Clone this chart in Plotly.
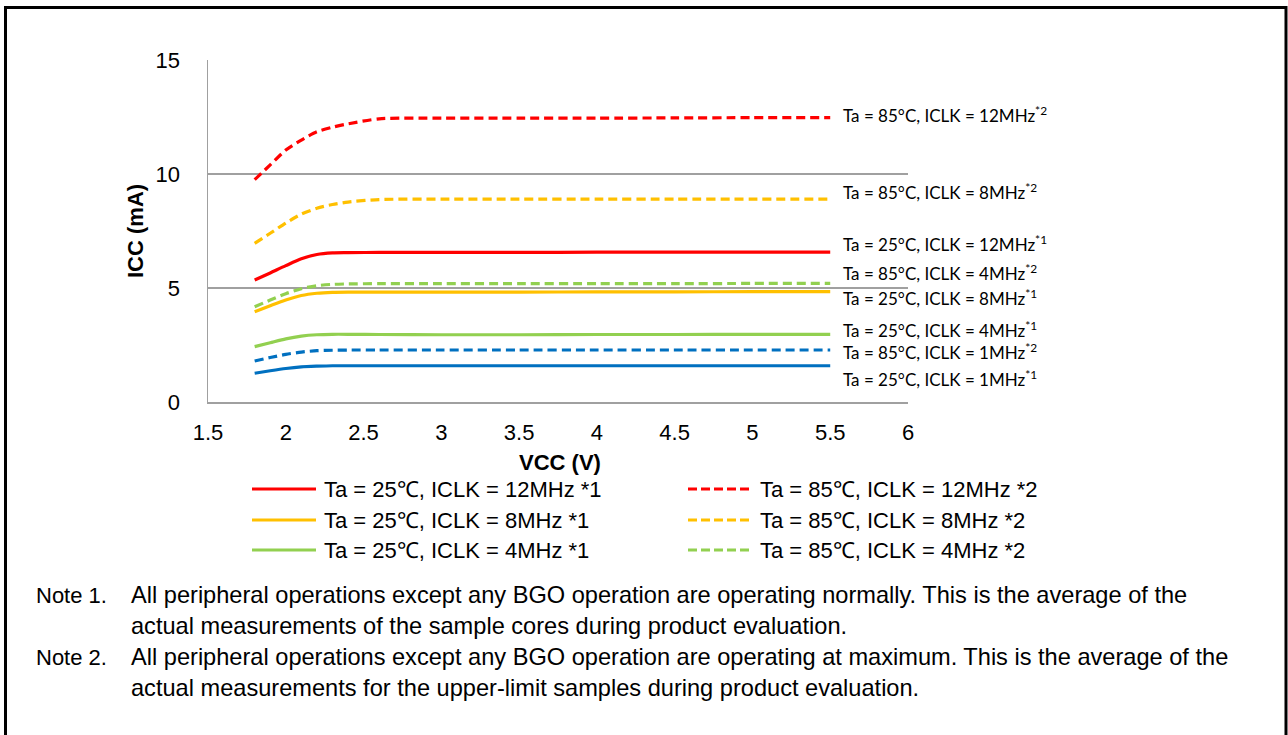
import plotly.graph_objects as go

# ---------------- data ----------------
VCC = [1.8, 1.9, 2.0, 2.1, 2.2, 2.3, 2.4, 2.6, 3.0, 3.5, 4.0, 4.5, 5.0, 5.5]

ICC_25C_12MHZ = [5.35, 5.66, 5.98, 6.28, 6.47, 6.54, 6.55, 6.56, 6.56, 6.56, 6.57, 6.57, 6.57, 6.57]
ICC_85C_12MHZ = [9.75, 10.40, 11.05, 11.49, 11.85, 12.05, 12.20, 12.42, 12.45, 12.45, 12.45, 12.46, 12.47, 12.47]
ICC_25C_8MHZ = [3.96, 4.22, 4.47, 4.67, 4.77, 4.81, 4.82, 4.82, 4.82, 4.82, 4.83, 4.83, 4.84, 4.84]
ICC_85C_8MHZ = [6.96, 7.40, 7.85, 8.24, 8.50, 8.66, 8.77, 8.88, 8.90, 8.90, 8.90, 8.90, 8.90, 8.90]
ICC_25C_4MHZ = [2.43, 2.60, 2.77, 2.89, 2.95, 2.97, 2.97, 2.96, 2.95, 2.95, 2.96, 2.96, 2.97, 2.97]
ICC_85C_4MHZ = [4.18, 4.47, 4.75, 4.97, 5.10, 5.16, 5.18, 5.19, 5.19, 5.19, 5.19, 5.19, 5.20, 5.20]
ICC_25C_1MHZ = [1.26, 1.37, 1.47, 1.54, 1.57, 1.59, 1.59, 1.59, 1.59, 1.59, 1.59, 1.59, 1.59, 1.59]
ICC_85C_1MHZ = [1.80, 1.95, 2.09, 2.19, 2.25, 2.27, 2.28, 2.28, 2.28, 2.28, 2.28, 2.28, 2.28, 2.28]

SERIES_NAMES = [
    "Ta = 25℃, ICLK = 12MHz *1", "Ta = 85℃, ICLK = 12MHz *2",
    "Ta = 25℃, ICLK = 8MHz *1", "Ta = 85℃, ICLK = 8MHz *2",
    "Ta = 25℃, ICLK = 4MHz *1", "Ta = 85℃, ICLK = 4MHz *2",
    "Ta = 25℃, ICLK = 1MHz *1", "Ta = 85℃, ICLK = 1MHz *2",
]
SERIES_VALUES = [ICC_25C_12MHZ, ICC_85C_12MHZ, ICC_25C_8MHZ, ICC_85C_8MHZ,
                 ICC_25C_4MHZ, ICC_85C_4MHZ, ICC_25C_1MHZ, ICC_85C_1MHZ]
IN_LEGEND = [True, True, True, True, True, True, False, False]

SIDE_LABELS = [
    "Ta = 85°C, ICLK = 12MHz<sup>*2</sup>",
    "Ta = 85°C, ICLK = 8MHz<sup>*2</sup>",
    "Ta = 25°C, ICLK = 12MHz<sup>*1</sup>",
    "Ta = 85°C, ICLK = 4MHz<sup>*2</sup>",
    "Ta = 25°C, ICLK = 8MHz<sup>*1</sup>",
    "Ta = 25°C, ICLK = 4MHz<sup>*1</sup>",
    "Ta = 85°C, ICLK = 1MHz<sup>*2</sup>",
    "Ta = 25°C, ICLK = 1MHz<sup>*1</sup>",
]

X_TICKS = [1.5, 2, 2.5, 3, 3.5, 4, 4.5, 5, 5.5, 6]
X_TICK_TEXT = ["1.5", "2", "2.5", "3", "3.5", "4", "4.5", "5", "5.5", "6"]
Y_TICKS = [0, 5, 10, 15]

NOTES = [
    ("Note 1.", "All peripheral operations except any BGO operation are operating normally. This is the average of the"),
    ("", "actual measurements of the sample cores during product evaluation."),
    ("Note 2.", "All peripheral operations except any BGO operation are operating at maximum. This is the average of the"),
    ("", "actual measurements for the upper-limit samples during product evaluation."),
]

# ---------------- style / layout ----------------
W, H = 1288, 735
PL, PR, PT, PB = 208, 908, 60, 402  # plot area in pixels


def px(xp):
    return (xp - PL) / (PR - PL)


def py(yp):
    return (PB - yp) / (PB - PT)


COLORS = ["#FF0000", "#FF0000", "#FFC000", "#FFC000", "#92D050", "#92D050", "#0070C0", "#0070C0"]
DASHES = ["solid", "9px,5px"] * 4
SIDE_LABEL_Y = [114, 191, 243, 272, 297, 329, 351, 378]
NOTE_Y = [595, 626, 657, 688]
AXIS_GRAY = "#A0A0A0"

fig = go.Figure()
for name, vals, col, dash in zip(SERIES_NAMES, SERIES_VALUES, COLORS, DASHES):
    fig.add_trace(go.Scatter(
        x=VCC, y=vals, mode="lines", name=name, showlegend=False, hoverinfo="skip",
        line=dict(color=col, width=3.2, dash=dash, shape="spline", smoothing=0.7),
    ))

shapes = []
annotations = []

# frame
shapes.append(dict(type="rect", xref="paper", yref="paper",
                   x0=px(5.5), x1=px(1286), y0=py(760), y1=py(7.5),
                   line=dict(color="black", width=3), fillcolor="rgba(0,0,0,0)", layer="above"))

# manual legend (two columns)
LEG_COL_X = [(252, 316, 322), (688, 753, 758)]
LEG_ROW_Y = [489, 520, 550]
legend_idx = [i for i, f in enumerate(IN_LEGEND) if f]
for k, i in enumerate(legend_idx):
    row, col = divmod(k, 2)
    x0, x1, xt = LEG_COL_X[col]
    yy = LEG_ROW_Y[row]
    shapes.append(dict(type="line", xref="paper", yref="paper",
                       x0=px(x0), x1=px(x1), y0=py(yy), y1=py(yy),
                       line=dict(color=COLORS[i], width=3.2,
                                 dash="solid" if DASHES[i] == "solid" else "9px,4px")))
    annotations.append(dict(xref="paper", yref="paper", x=px(xt), y=py(yy),
                            xanchor="left", yanchor="middle", showarrow=False,
                            text=SERIES_NAMES[i],
                            font=dict(family="Liberation Sans, Arial", size=22, color="black")))

# side labels
for txt, yy in zip(SIDE_LABELS, SIDE_LABEL_Y):
    annotations.append(dict(xref="paper", yref="paper", x=px(841), y=py(yy),
                            xanchor="left", yanchor="middle", showarrow=False,
                            text=txt, font=dict(family="Lato, Liberation Sans", size=17, color="black")))

# axis titles
annotations.append(dict(xref="paper", yref="paper", x=px(560), y=py(462),
                        xanchor="center", yanchor="middle", showarrow=False,
                        text="<b>VCC (V)</b>",
                        font=dict(family="Liberation Sans, Arial", size=22, color="black")))
annotations.append(dict(xref="paper", yref="paper", x=px(135), y=py(231),
                        xanchor="center", yanchor="middle", showarrow=False, textangle=-90,
                        text="<b>ICC (mA)</b>",
                        font=dict(family="Liberation Sans, Arial", size=22, color="black")))

# notes
for (lab, txt), yy in zip(NOTES, NOTE_Y):
    if lab:
        annotations.append(dict(xref="paper", yref="paper", x=px(34), y=py(yy),
                                xanchor="left", yanchor="middle", showarrow=False, text=lab,
                                font=dict(family="Liberation Sans, Arial", size=22, color="black")))
    annotations.append(dict(xref="paper", yref="paper", x=px(129), y=py(yy),
                            xanchor="left", yanchor="middle", showarrow=False, text=txt,
                            font=dict(family="Liberation Sans, Arial", size=23.6, color="black")))

fig.update_layout(
    width=W, height=H, autosize=False,
    margin=dict(l=PL, r=W - PR, t=PT, b=H - PB, autoexpand=False),
    paper_bgcolor="white", plot_bgcolor="white",
    showlegend=False, hovermode=False,
    shapes=shapes, annotations=annotations,
    xaxis=dict(range=[1.5, 6], tickvals=X_TICKS, ticktext=X_TICK_TEXT,
               showgrid=False, zeroline=False, showline=True, linecolor=AXIS_GRAY, linewidth=1.5,
               ticks="", ticklabelstandoff=10,
               tickfont=dict(family="Liberation Sans, Arial", size=22, color="black")),
    yaxis=dict(range=[0, 15], tickvals=Y_TICKS,
               showgrid=True, gridcolor=AXIS_GRAY, gridwidth=1.5, zeroline=False,
               showline=True, linecolor=AXIS_GRAY, linewidth=1.5,
               ticks="", ticklabelstandoff=22,
               tickfont=dict(family="Liberation Sans, Arial", size=22, color="black")),
)

fig.write_html("out.html", config={"displayModeBar": False, "staticPlot": True},
               post_script="document.body.style.margin='0px';document.body.style.overflow='hidden';")
